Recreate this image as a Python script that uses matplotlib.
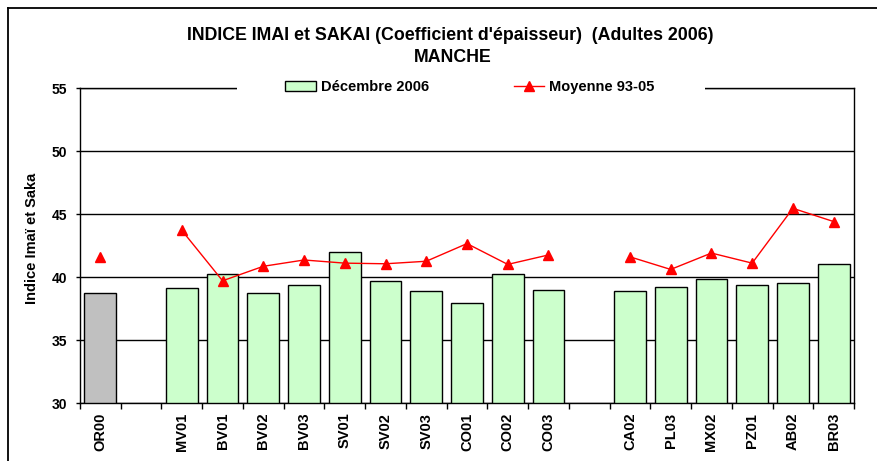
import numpy as np
import matplotlib
matplotlib.use("Agg")
import matplotlib.pyplot as plt
from matplotlib.lines import Line2D
from matplotlib.patches import Patch, Rectangle

plt.rcParams['font.family'] = ['Liberation Sans', 'DejaVu Sans']

categories = ["OR00", "", "MV01", "BV01", "BV02", "BV03", "SV01", "SV02", "SV03",
              "CO01", "CO02", "CO03", "", "CA02", "PL03", "MX02", "PZ01", "AB02", "BR03"]
dec2006 = [38.7, np.nan, 39.1, 40.2, 38.7, 39.4, 42.0, 39.65, 38.85,
           37.95, 40.25, 39.0, np.nan, 38.85, 39.2, 39.85, 39.35, 39.5, 41.0]
moy9305 = [41.6, np.nan, 43.7, 39.7, 40.85, 41.35, 41.1, 41.05, 41.25,
           42.65, 41.0, 41.75, np.nan, 41.6, 40.6, 41.9, 41.1, 45.45, 44.4]
bar_colors = ["#C0C0C0"] + ["#CCFFCC"] * 18
yticks = [30, 35, 40, 45, 50, 55]

W, H = 877, 461
fig = plt.figure(figsize=(W / 100, H / 100), dpi=100)
ax = fig.add_axes([80 / W, 1 - 403 / H, (854 - 80) / W, (403 - 88) / H])

x = np.arange(len(categories))
ax.set_axisbelow(True)
ax.yaxis.grid(True, color='black', linewidth=1)
ax.bar(x, np.nan_to_num(dec2006, nan=0), width=0.78, color=bar_colors,
       edgecolor='black', linewidth=1, zorder=2)
ax.plot(x, moy9305, color='red', linewidth=1, marker='^', markersize=6.5,
        markeredgecolor='red', markerfacecolor='red', zorder=3)

ax.set_xlim(-0.5, len(categories) - 0.5)
ax.set_ylim(30, 55)
ax.set_yticks(yticks)
ax.set_xticks(x)
ax.set_xticklabels(categories, rotation=90, fontsize=10.5, fontweight='bold')
ax.set_xticks(np.arange(-0.5, len(categories), 1), minor=True)
ax.tick_params(axis='x', which='major', length=0, pad=7)
ax.tick_params(axis='x', which='minor', length=4, width=1, direction='out')
ax.tick_params(axis='y', length=3, width=1, direction='out', pad=6, labelsize=10)
for lab in ax.get_yticklabels():
    lab.set_fontweight('bold')
for s in ax.spines.values():
    s.set_color('black')
    s.set_linewidth(1)

ax.set_ylabel("Indice Imaï et Saka", fontsize=10.5, fontweight='bold')
ax.yaxis.set_label_coords((39 - 80) / 774, (403 - 238.5) / 315)

fig.text(450 / W, 1 - 35 / H, "INDICE IMAI et SAKAI (Coefficient d'épaisseur)  (Adultes 2006)",
         ha='center', va='center', fontsize=12.8, fontweight='bold')
fig.text(453 / W, 1 - 58 / H, "MANCHE", ha='center', va='center',
         fontsize=12.8, fontweight='bold')

# white gap in the top frame behind the legend
fig.add_artist(Rectangle((237 / W, 1 - 93 / H), (705 - 237) / W, 10 / H,
                         transform=fig.transFigure, facecolor='white',
                         edgecolor='none', zorder=4))
handles = [Patch(facecolor='#CCFFCC', edgecolor='black', linewidth=1),
           Line2D([], [], color='red', linewidth=1, marker='^', markersize=6.5,
                  markerfacecolor='red', markeredgecolor='red')]
leg = fig.legend(handles, ['Décembre 2006', 'Moyenne 93-05'], loc='center',
                 bbox_to_anchor=(470 / W, 1 - 87 / H), ncol=2, frameon=False,
                 prop={'weight': 'bold', 'size': 10.5}, handlelength=2.1,
                 handleheight=0.7, handletextpad=0.35, columnspacing=5.8)
leg.set_zorder(5)

# outer chart border
fig.add_artist(Line2D([8 / W, 8 / W], [0, 1 - 8 / H], transform=fig.transFigure,
                      color='black', linewidth=1.3))
fig.add_artist(Line2D([8 / W, 1], [1 - 8 / H, 1 - 8 / H], transform=fig.transFigure,
                      color='black', linewidth=1.3))

fig.savefig("out.png", dpi=100)
